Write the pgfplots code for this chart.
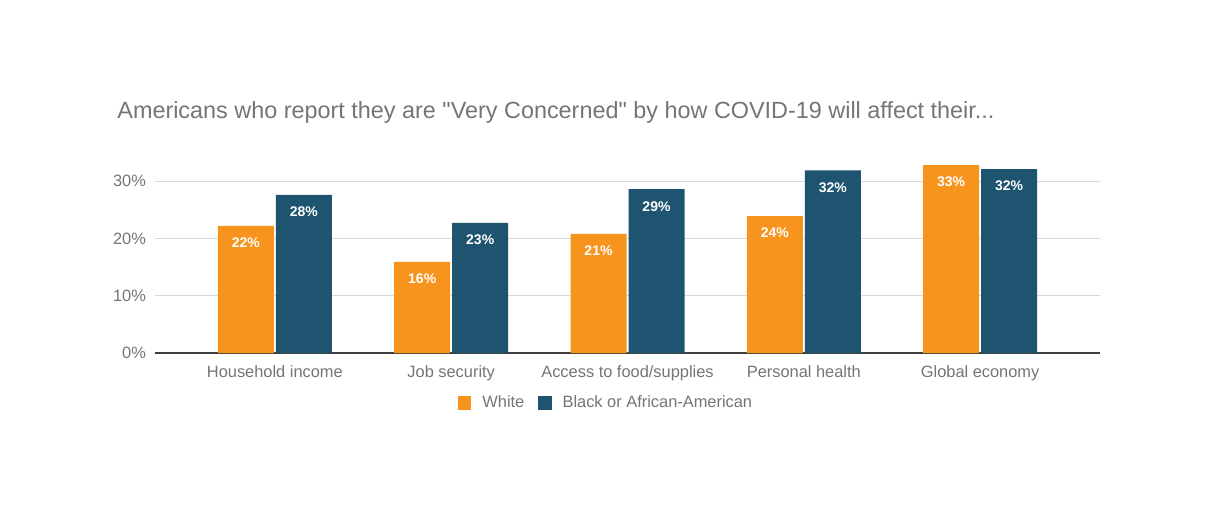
\documentclass[border=0pt]{standalone}
\usepackage{pgfplots}
\pgfplotsset{compat=1.18}
\usepackage{fontspec}
\setmainfont{Liberation Sans}
\newfontfamily\qfont{Liberation Sans}[Ligatures=ResetAll]
\definecolor{cOr}{RGB}{247,148,30}
\definecolor{cBl}{RGB}{31,84,112}
\definecolor{cTx}{RGB}{117,117,117}
\definecolor{cGr}{RGB}{217,217,217}
\begin{document}
\begin{tikzpicture}
\useasboundingbox[fill=white] (0,0) rectangle (602.5pt,262.5pt);
\node[anchor=west, text=cTx, font=\fontsize{11.7}{13}\selectfont, inner sep=0pt] at (58.5pt,206.5pt) {Americans who report they are {\qfont"}Very Concerned{\qfont"} by how COVID-19 will affect their...};
\begin{axis}[
  at={(77.5pt,86pt)}, anchor=south west,
  scale only axis, width=472.5pt, height=100.25pt,
  ybar=1pt, bar width=28pt,
  xmin=-0.68, xmax=4.68, ymin=0, ymax=35,
  xtick=data,
  xticklabels={Household income,Job security,Access to food/supplies,Personal health,Global economy},
  ytick={0,10,20,30},
  yticklabel={\pgfmathprintnumber{\tick}\%},
  /pgf/number format/assume math mode=true,
  ticklabel style={text=cTx, font=\fontsize{8.2}{10}\selectfont},
  xticklabel style={yshift=-3pt},
  yticklabel style={xshift=-1pt},
  major tick length=0pt,
  axis x line*=bottom, axis y line*=left,
  x axis line style={draw=black!75, line width=0.6pt},
  y axis line style={draw=none},
  ymajorgrids, grid style={cGr, line width=0.6pt},
  nodes near coords={\pgfmathprintnumber[fixed,precision=0]{\pgfplotspointmeta}\%},
  nodes near coords style={anchor=north, yshift=-2.5pt, text=white, font=\bfseries\fontsize{7}{8}\selectfont, /pgf/number format/assume math mode=true},
  legend style={at={(0.4785,-0.25)}, anchor=center, draw=none, legend columns=2, font=\fontsize{8.2}{10}\selectfont, text=cTx,
    /tikz/every odd column/.append style={column sep=3.5pt},
    /tikz/every even column/.append style={column sep=5pt}},
  legend image code/.code={\fill[#1] (0pt,-3.2pt) rectangle (6.6pt,3.4pt);},
]
\addplot[fill=cOr, draw=none] coordinates {(0,22.2) (1,15.9) (2,20.8) (3,23.9) (4,32.8)};
\addplot[fill=cBl, draw=none] coordinates {(0,27.6) (1,22.7) (2,28.6) (3,31.9) (4,32.1)};
\legend{White, Black or African-American}
\end{axis}
\end{tikzpicture}
\end{document}
